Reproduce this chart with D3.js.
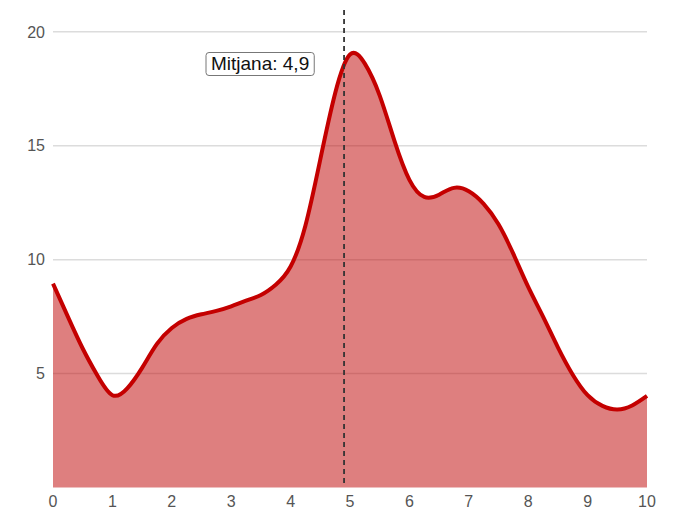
<!DOCTYPE html>
<html><head><meta charset="utf-8">
<script src="https://cdn.jsdelivr.net/npm/d3@7"></script>
<style>body{margin:0;background:#fff;} svg{display:block;}</style>
</head><body>
<svg id="c" width="677" height="511"></svg>
<script>
const xs = [0,0.25,0.5,0.75,1,1.25,1.5,1.75,2,2.25,2.5,2.75,3,3.25,3.5,3.75,4,4.25,4.5,4.75,5,5.25,5.5,5.75,6,6.25,6.5,6.75,7,7.25,7.5,7.75,8,8.25,8.5,8.75,9,9.25,9.5,9.75,10];
const ys = [8.95,7.5,6.1,4.9,4.05,4.35,5.25,6.3,7.0,7.4,7.6,7.75,7.95,8.2,8.45,8.9,9.7,11.5,14.4,17.3,19.0,18.6,17.2,15.2,13.5,12.75,12.85,13.15,13.0,12.45,11.55,10.25,8.8,7.5,6.15,4.95,4.05,3.58,3.42,3.6,4.02];
const xTicks = [0,1,2,3,4,5,6,7,8,9,10];
const yTicks = [5,10,15,20];
const meanValue = 4.9;
const meanLabel = "Mitjana: 4,9";

const data = xs.map((x,i)=>({x, y: ys[i]}));
const svg = d3.select("#c");
const x = d3.scaleLinear().domain([0,10]).range([53,647]);
const y = d3.scaleLinear().domain([0, 19.05*1.1]).range([487.5,10]);
const font = "'Liberation Sans', Arial, sans-serif";

// gridlines
svg.append("g").selectAll("line").data(yTicks).join("line")
  .attr("x1", x(0)).attr("x2", x(10))
  .attr("y1", d=>y(d)).attr("y2", d=>y(d))
  .attr("stroke", "#dcdcdc").attr("stroke-width", 1.5);

// y labels
svg.append("g").selectAll("text").data(yTicks).join("text")
  .attr("x", 45).attr("y", d=>y(d)).attr("dy","0.36em")
  .attr("text-anchor","end").attr("font-family",font).attr("font-size",16)
  .attr("fill","#555").text(d=>d);

// x labels
svg.append("g").selectAll("text").data(xTicks).join("text")
  .attr("x", d=>x(d)).attr("y", 507)
  .attr("text-anchor","middle").attr("font-family",font).attr("font-size",16)
  .attr("fill","#555").text(d=>d);

const curve = d3.curveNatural;
svg.append("path").datum(data)
  .attr("d", d3.area().x(d=>x(d.x)).y0(y(0)).y1(d=>y(d.y)).curve(curve))
  .attr("fill", "rgb(190,0,0)").attr("fill-opacity", 0.5);
svg.append("path").datum(data)
  .attr("d", d3.line().x(d=>x(d.x)).y(d=>y(d.y)).curve(curve))
  .attr("fill", "none").attr("stroke", "#c40000").attr("stroke-width", 4)
  .attr("stroke-linejoin","round");

// mean line
svg.append("line").attr("x1", x(meanValue)).attr("x2", x(meanValue))
  .attr("y1", 10).attr("y2", 487)
  .attr("stroke", "#333").attr("stroke-width", 1.8).attr("stroke-dasharray","5,4");

// mean label
const lg = svg.append("g");
const t = lg.append("text").attr("x", 211).attr("y", 70)
  .attr("font-family",font).attr("font-size",19).attr("fill","#111").text(meanLabel);
const bb = t.node().getBBox();
lg.insert("rect","text").attr("x", bb.x-5).attr("y", 52.5).attr("width", bb.width+10).attr("height", 23)
  .attr("rx",3).attr("fill","#fff").attr("stroke","#777").attr("stroke-width",1);
</script>
</body></html>
